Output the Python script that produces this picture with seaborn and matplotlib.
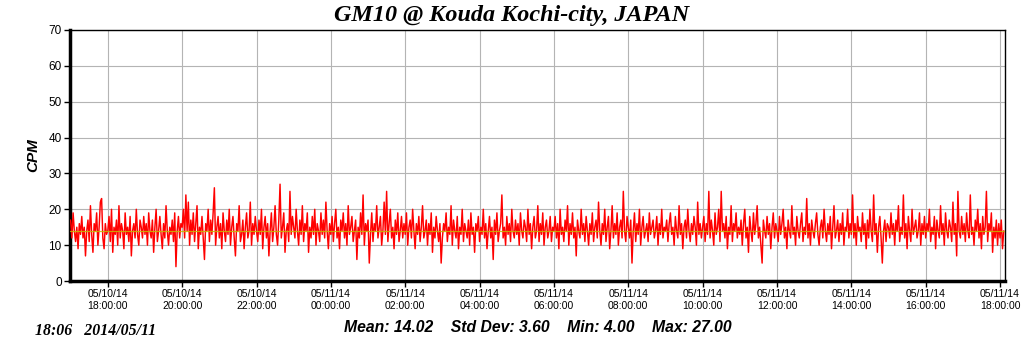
import numpy as np
import pandas as pd
import matplotlib
matplotlib.use('Agg')
import matplotlib.pyplot as plt
import matplotlib.dates as mdates
import seaborn as sns

###############################################################################
# Data: CPM readings every 2 minutes, 05/10/14 17:00 -> 05/11/14 18:06
###############################################################################
h17a = [17, 12, 19, 14, 11, 15, 9, 16, 13, 18, 12, 15, 7, 14, 17, 11, 21, 13, 8, 16, 14, 19, 10, 15, 22, 23, 12, 9, 16, 13]
h18a = [14, 18, 11, 20, 8, 15, 13, 17, 10, 21, 12, 16, 14, 9, 19, 13, 15, 11, 18, 7, 14, 16, 12, 20, 13, 10, 17, 15, 12, 18]
h19a = [13, 16, 10, 19, 14, 12, 17, 8, 15, 20, 11, 14, 18, 13, 9, 16, 12, 21, 14, 10, 15, 13, 17, 11, 19, 4, 14, 18, 12, 16]
h20a = [15, 20, 12, 24, 14, 22, 10, 17, 13, 19, 11, 16, 21, 9, 15, 13, 18, 12, 6, 16, 14, 20, 11, 17, 13, 19, 26, 10, 15, 18]
h21a = [12, 16, 9, 19, 14, 11, 17, 13, 20, 10, 15, 18, 12, 7, 16, 14, 21, 11, 13, 17, 9, 15, 19, 12, 14, 22, 10, 16, 13, 18]
h22a = [14, 11, 17, 13, 20, 9, 15, 18, 12, 16, 7, 14, 19, 11, 15, 21, 13, 10, 17, 27, 12, 15, 19, 8, 14, 16, 11, 25, 13, 18]
h23a = [15, 12, 20, 14, 10, 17, 13, 21, 11, 16, 14, 19, 8, 15, 12, 18, 13, 20, 10, 16, 14, 11, 19, 13, 17, 12, 22, 14, 9, 16]
h00 = [13, 18, 11, 16, 20, 12, 15, 9, 17, 14, 19, 12, 16, 10, 21, 13, 15, 18, 11, 14, 17, 6, 15, 12, 19, 13, 24, 10, 16, 14]
h01 = [17, 5, 13, 19, 11, 16, 14, 21, 12, 15, 18, 10, 14, 22, 13, 25, 11, 16, 20, 12, 15, 9, 17, 13, 19, 11, 14, 18, 12, 16]
h02 = [13, 19, 10, 15, 17, 12, 20, 14, 9, 16, 13, 18, 11, 15, 21, 12, 14, 17, 10, 16, 13, 19, 8, 15, 12, 18, 14, 11, 16, 5]
h03 = [12, 16, 14, 19, 11, 15, 13, 21, 10, 17, 14, 12, 18, 9, 15, 13, 20, 11, 16, 14, 12, 17, 10, 19, 13, 15, 8, 16, 14, 18]
h04 = [11, 15, 13, 20, 12, 16, 9, 14, 18, 12, 15, 6, 17, 13, 19, 11, 14, 16, 24, 12, 15, 10, 18, 13, 16, 11, 20, 14, 12, 17]
h05 = [13, 16, 10, 19, 14, 12, 17, 15, 11, 20, 13, 16, 9, 15, 18, 12, 14, 21, 11, 16, 13, 19, 10, 15, 17, 12, 14, 18, 11, 15]
h06 = [14, 18, 12, 16, 9, 20, 13, 15, 11, 17, 14, 21, 10, 16, 13, 19, 12, 15, 7, 17, 14, 12, 20, 13, 16, 11, 18, 14, 10, 16]
h07 = [13, 19, 11, 15, 17, 12, 22, 14, 10, 16, 13, 20, 11, 15, 18, 9, 14, 21, 12, 16, 13, 19, 10, 15, 17, 12, 25, 14, 11, 18]
h08 = [15, 12, 17, 5, 14, 19, 11, 16, 13, 20, 10, 15, 18, 12, 14, 16, 11, 19, 13, 15, 17, 12, 14, 18, 10, 16, 13, 20, 12, 15]
h09 = [14, 17, 11, 16, 19, 13, 15, 10, 18, 14, 12, 21, 13, 16, 9, 15, 17, 12, 20, 14, 11, 16, 13, 18, 15, 10, 22, 13, 16, 12]
h10 = [15, 18, 11, 16, 13, 25, 12, 17, 14, 10, 19, 13, 15, 20, 11, 25, 14, 16, 12, 18, 9, 15, 13, 21, 11, 16, 14, 19, 12, 15]
h11 = [13, 17, 10, 16, 20, 12, 15, 8, 18, 14, 11, 19, 13, 16, 21, 12, 15, 10, 5, 17, 14, 12, 18, 13, 16, 9, 15, 19, 12, 16]
h12 = [14, 11, 18, 13, 16, 20, 12, 15, 9, 17, 14, 12, 21, 13, 15, 10, 18, 14, 12, 16, 19, 11, 15, 13, 23, 12, 16, 10, 17, 14]
h13 = [12, 16, 19, 13, 10, 15, 17, 12, 20, 14, 11, 16, 13, 18, 9, 15, 21, 12, 14, 17, 11, 16, 13, 19, 10, 15, 14, 20, 12, 16]
h14 = [13, 24, 12, 16, 10, 18, 14, 15, 11, 19, 13, 16, 9, 17, 12, 20, 14, 11, 24, 13, 16, 8, 15, 18, 12, 5, 14, 17, 11, 16]
h15 = [15, 12, 19, 13, 16, 10, 17, 14, 21, 11, 15, 13, 24, 12, 16, 9, 18, 14, 11, 20, 13, 15, 17, 12, 14, 19, 10, 16, 13, 18]
h16 = [12, 16, 14, 20, 11, 15, 13, 18, 9, 17, 14, 12, 21, 13, 16, 10, 19, 14, 12, 17, 15, 11, 22, 13, 16, 7, 25, 14, 12, 18]
h17b = [13, 16, 11, 19, 14, 12, 24, 13, 15, 10, 17, 14, 20, 12, 16, 9, 18, 13, 15, 25, 11, 16, 14, 19, 8, 15, 12, 17, 10, 16]
h18b = [12, 17, 9, 14]

HOURS = [h17a, h18a, h19a, h20a, h21a, h22a, h23a, h00, h01, h02, h03, h04,
         h05, h06, h07, h08, h09, h10, h11, h12, h13, h14, h15, h16, h17b, h18b]
cpm = [v for h in HOURS for v in h]

T_START = '2014-05-10 17:00'
STEP = '2min'
MEAN = 14.02
TITLE = 'GM10 @ Kouda Kochi-city, JAPAN'
STATS = 'Mean: 14.02    Std Dev: 3.60    Min: 4.00    Max: 27.00'
STAMP = '18:06   2014/05/11'

df = pd.DataFrame({
    'time': pd.date_range(T_START, periods=len(cpm), freq=STEP),
    'cpm': cpm
})
###############################################################################
# Plot
###############################################################################
sns.set_style('white')
plt.rcParams['font.family'] = ['Liberation Sans', 'DejaVu Sans']
plt.rcParams.update({'text.color': 'black', 'axes.labelcolor': 'black',
                     'xtick.color': 'black', 'ytick.color': 'black'})

fig = plt.figure(figsize=(10.24, 3.51), dpi=100)
ax = fig.add_axes([70/1024, 1-281/351, 935/1024, 251/351])

sns.lineplot(data=df, x='time', y='cpm', ax=ax, color='#ff0000', lw=1.05,
             zorder=3)
ax.axhline(MEAN, color='#c8b400', lw=0.9, alpha=0.85, zorder=4)

ax.set_ylim(0, 70)
ax.set_yticks(range(0, 71, 10))
ax.set_xlim(pd.Timestamp('2014-05-10 16:59'), pd.Timestamp('2014-05-11 18:08'))
ax.xaxis.set_major_locator(mdates.HourLocator(byhour=range(0, 24, 2)))
ax.xaxis.set_major_formatter(mdates.DateFormatter('%m/%d/%y\n%H:%M:%S'))
ax.grid(True, color='#b4b4b4', lw=0.8, zorder=0)
ax.set_axisbelow(True)
ax.tick_params(axis='both', length=4, width=1, color='black',
               labelcolor='black', direction='out', pad=2, left=True,
               bottom=True)
ax.tick_params(axis='x', labelsize=7.5)
ax.tick_params(axis='y', labelsize=8.5)
ax.set_xlabel('')
ax.set_ylabel('CPM', fontsize=11, fontweight='bold', fontstyle='italic',
              labelpad=6, color='black')

for s in ['top', 'right']:
    ax.spines[s].set_color('black')
    ax.spines[s].set_linewidth(1)
for s in ['left', 'bottom']:
    ax.spines[s].set_color('black')
    ax.spines[s].set_linewidth(2.5)

fig.text(512/1024, 1-16/351, TITLE, ha='center', va='center', fontsize=17.4,
         family='Liberation Serif', fontweight='bold', fontstyle='italic',
         color='black')
fig.text(538/1024, 1-327/351, STATS, ha='center', va='center', fontsize=11.3,
         fontweight='bold', fontstyle='italic', color='black')
fig.text(35/1024, 1-331/351, STAMP, ha='left', va='center', fontsize=11.4,
         family='Liberation Serif', fontweight='bold', fontstyle='italic',
         color='black')

fig.savefig('out.png', dpi=100, facecolor='white')
